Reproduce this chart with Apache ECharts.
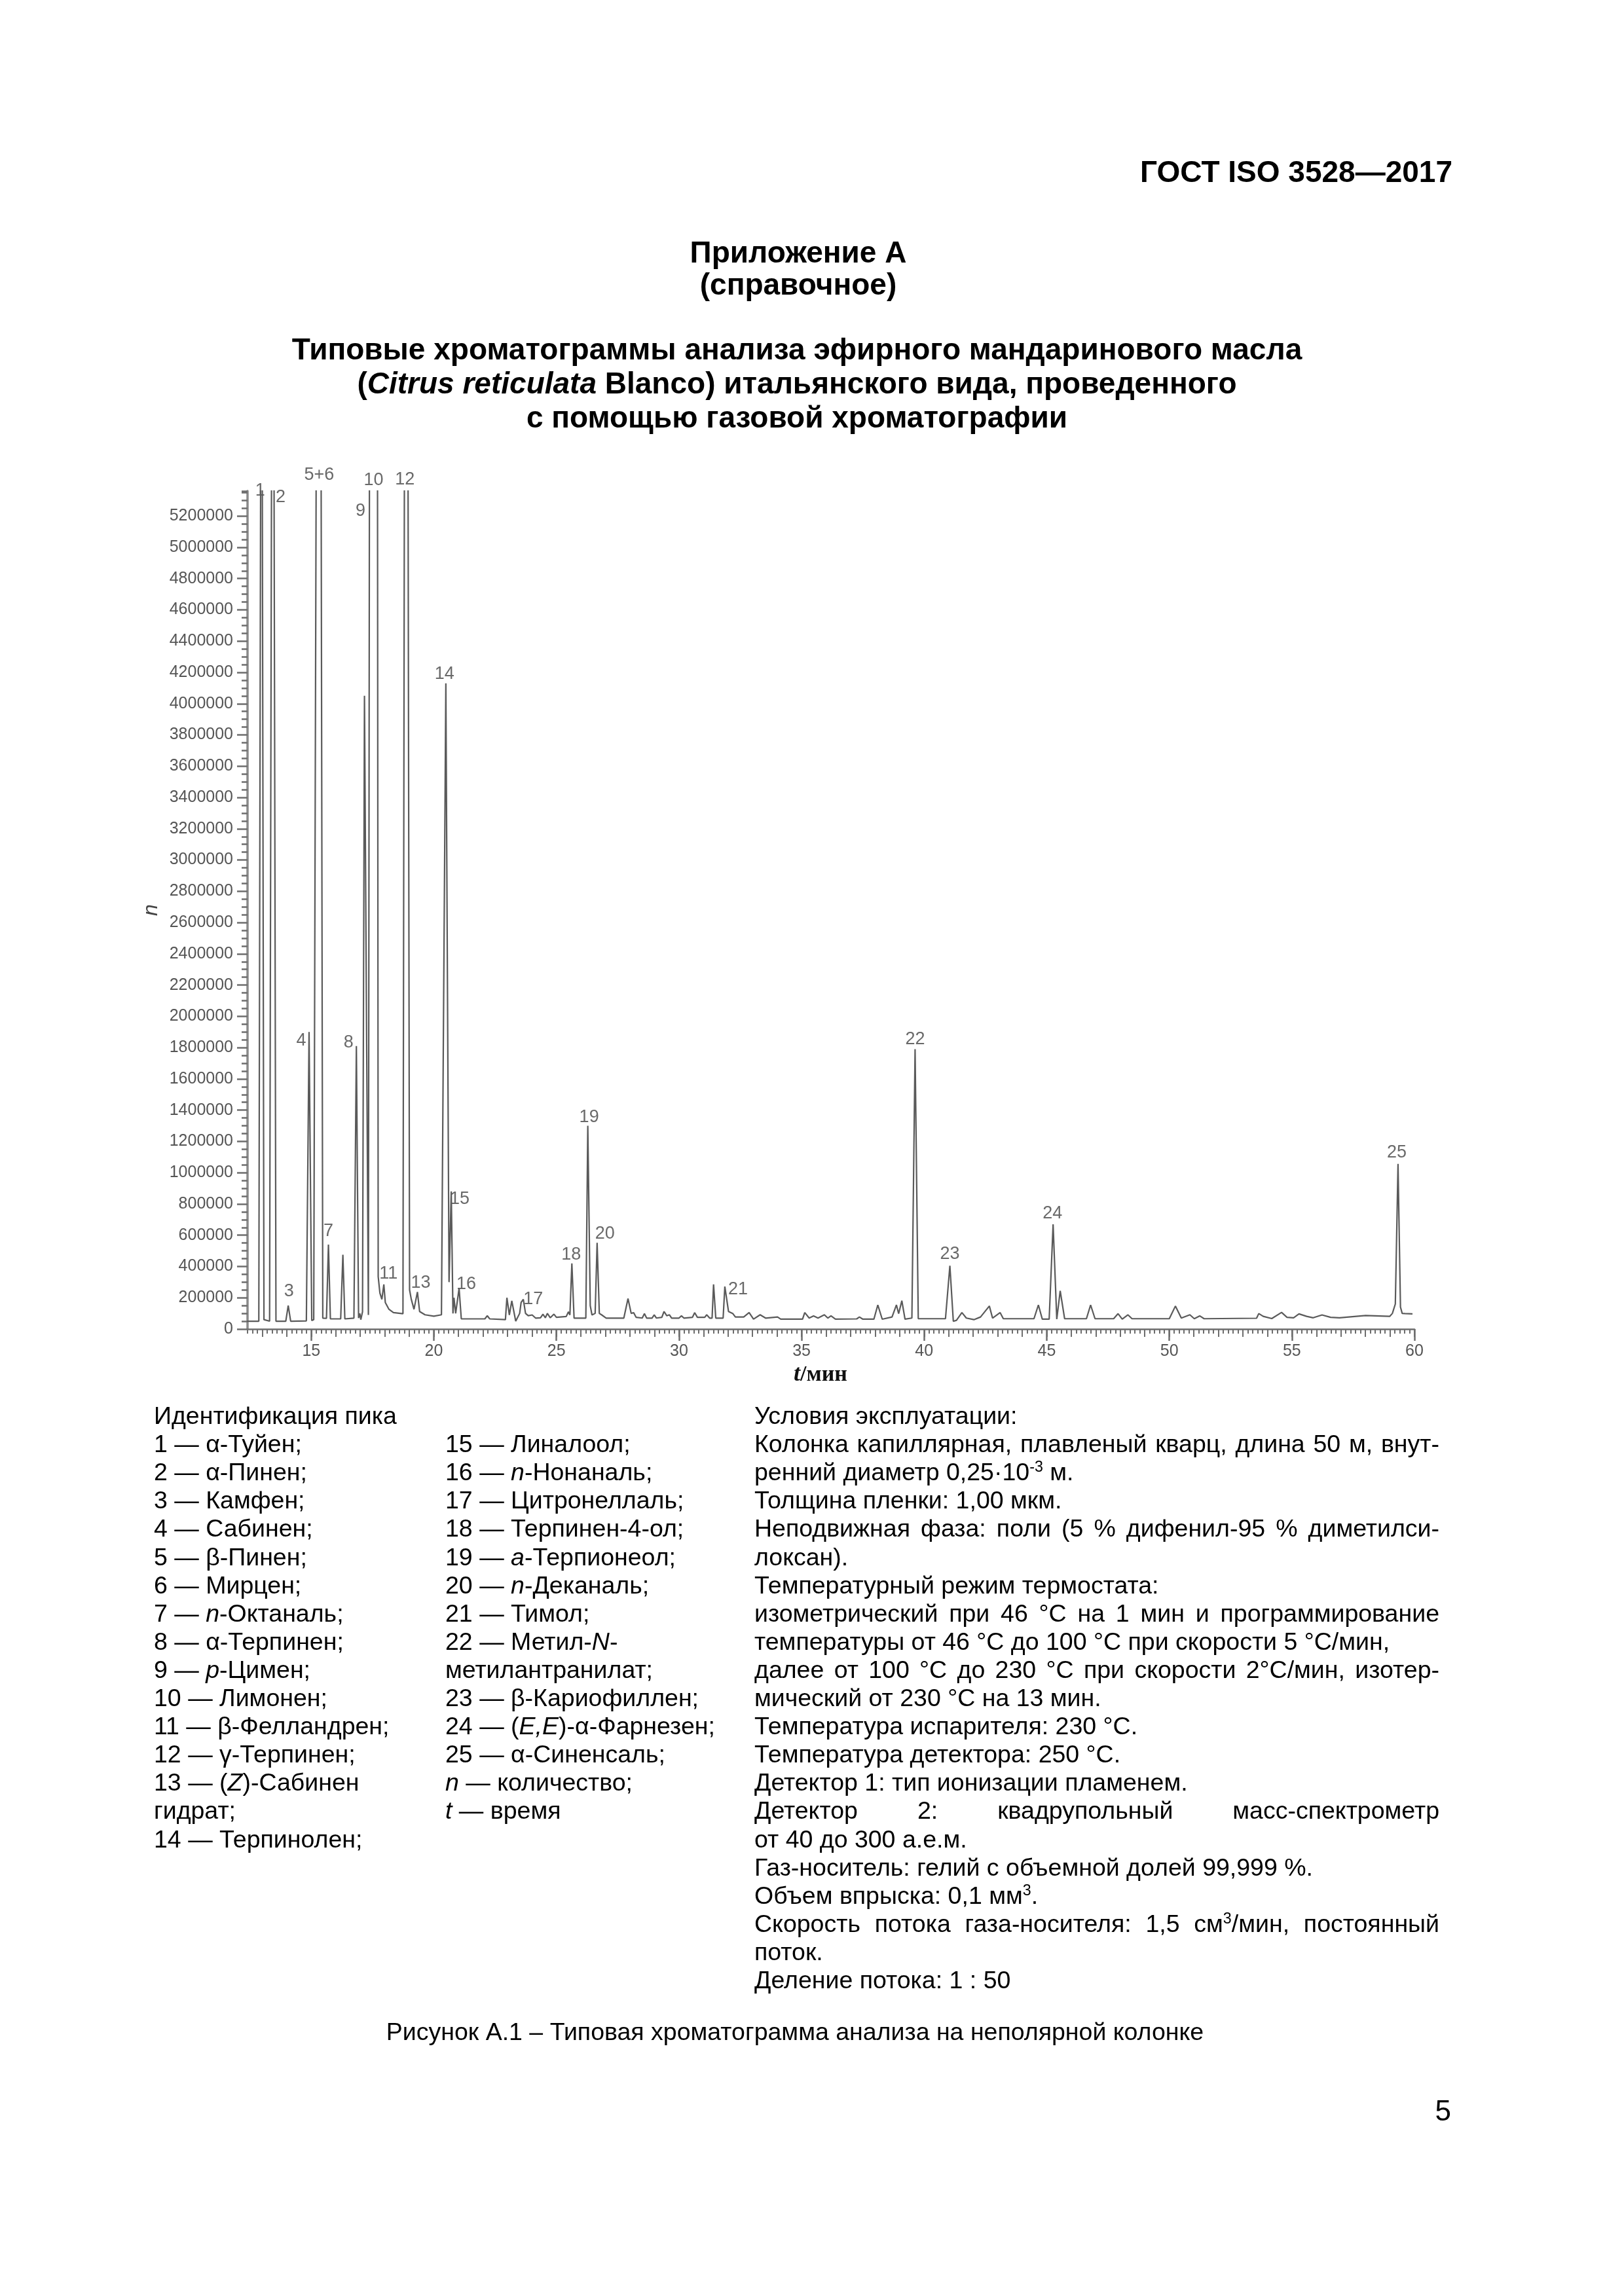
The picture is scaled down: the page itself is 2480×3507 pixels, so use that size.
<!DOCTYPE html>
<html lang="ru">
<head>
<meta charset="utf-8">
<script src="https://cdn.jsdelivr.net/npm/echarts@6/dist/echarts.min.js"></script>
<style>
  html, body { margin: 0; padding: 0; background: #fff; }
  #page { position: relative; width: 2480px; height: 3507px; overflow: hidden; background: #fff; }
  #chart { position: absolute; left: 0; top: 0; width: 2480px; height: 3507px; }
  .t { position: absolute; font-family: "Liberation Sans", Arial, sans-serif; color: #000; white-space: nowrap; }
  .h { font-size: 46px; font-weight: bold; line-height: 52px; }
  .b { font-size: 37.5px; line-height: 43px; }
  .j { width: 1046px; text-align: justify; text-align-last: justify; white-space: normal; }
  sup { font-size: 0.62em; line-height: 0; vertical-align: 0.55em; }
  i { font-style: italic; }
</style>
</head>
<body>
<div id="page">
  <div id="chart"></div>

  <div class="t h" style="right:262px; top:236px;">ГОСТ ISO 3528—2017</div>
  <div class="t h" style="left:0; width:2438px; text-align:center; top:359px;">Приложение А</div>
  <div class="t h" style="left:0; width:2438px; text-align:center; top:408px;">(справочное)</div>
  <div class="t h" style="left:0; width:2434px; text-align:center; top:507px;">Типовые хроматограммы анализа эфирного мандаринового масла</div>
  <div class="t h" style="left:0; width:2434px; text-align:center; top:559px;">(<i>Citrus reticulata</i> Blanco) итальянского вида, проведенного</div>
  <div class="t h" style="left:0; width:2434px; text-align:center; top:611px;">с помощью газовой хроматографии</div>

  <div id="textblock"></div>

  <div class="t b" style="left:0; width:2428px; text-align:center; top:3082px;">Рисунок А.1 – Типовая хроматограмма анализа на неполярной колонке</div>
  <div class="t" style="right:264px; top:3198px; font-size:44px; line-height:52px;">5</div>
</div>

<script>
// ---------------- DATA ----------------
// chromatogram trace: retention time, min
const traceT = [
  12.38, 12.86, 12.97, 13.07, 13.30, 13.43, 13.56, 13.96, 14.06, 14.16,
  14.80, 14.91, 15.02, 15.10, 15.32, 15.47, 15.62, 15.70, 15.78, 16.20,
  16.29, 16.37, 16.74, 16.84, 16.93, 16.98, 17.02, 17.09, 17.17, 17.33,
  17.57, 17.73, 17.80, 17.88, 17.96, 18.02, 18.17, 18.35, 18.74, 18.87,
  19.01, 19.08, 19.19, 19.33, 19.42, 19.64, 20.00, 20.31, 20.49, 20.62,
  20.71, 20.78, 20.82, 20.89, 21.03, 21.12, 22.08, 22.18, 22.28, 22.92,
  22.98, 23.08, 23.18, 23.34, 23.50, 23.56, 23.65, 23.74, 23.85, 24.01,
  24.15, 24.35, 24.45, 24.55, 24.63, 24.75, 24.90, 25.00, 25.40, 25.49,
  25.55, 25.63, 25.72, 26.20, 26.28, 26.38, 26.45, 26.58, 26.66, 26.75,
  26.85, 27.03, 27.75, 27.92, 28.05, 28.15, 28.25, 28.50, 28.59, 28.68,
  28.90, 28.99, 29.08, 29.30, 29.39, 29.50, 29.61, 29.70, 30.00, 30.10,
  30.20, 30.55, 30.64, 30.75, 31.05, 31.13, 31.25, 31.35, 31.41, 31.50,
  31.80, 31.87, 32.02, 32.20, 32.30, 32.64, 32.86, 33.04, 33.31, 33.53,
  34.02, 34.15, 35.04, 35.13, 35.31, 35.49, 35.67, 35.93, 36.07, 36.20,
  36.38, 37.25, 37.36, 37.50, 37.95, 38.11, 38.29, 38.69, 38.87, 38.96,
  39.09, 39.22, 39.50, 39.63, 39.76, 40.87, 41.05, 41.19, 41.32, 41.54,
  41.72, 42.03, 42.30, 42.66, 42.79, 43.10, 43.23, 44.48, 44.66, 44.82,
  45.10, 45.26, 45.41, 45.55, 45.73, 46.62, 46.79, 46.97, 47.73, 47.91,
  48.08, 48.31, 48.48, 50.00, 50.25, 50.49, 50.84, 51.02, 51.24, 51.42,
  53.56, 53.65, 53.83, 54.18, 54.58, 54.80, 55.07, 55.29, 55.60, 55.87,
  56.23, 56.58, 56.94, 58.01, 58.99, 59.10, 59.22, 59.33, 59.43, 59.50,
  59.61, 59.92
];
// detector signal n (counts)
const traceN = [
  50000, 50000, 8000000, 60000, 50000, 9000000, 50000, 50000, 150000, 50000,
  52000, 1900000, 55000, 60000, 12000000, 70000, 68000, 540000, 65000, 65000,
  475000, 65000, 70000, 1810000, 70000, 100000, 60000, 110000, 4050000, 90000,
  30000000, 335000, 230000, 190000, 285000, 170000, 126000, 105000, 98000, 12000000,
  250000, 190000, 126000, 237000, 112000, 91000, 82000, 91000, 4130000, 300000,
  880000, 100000, 200000, 100000, 260000, 65000, 65000, 85000, 65000, 60000,
  200000, 90000, 180000, 50000, 100000, 170000, 190000, 100000, 85000, 90000,
  70000, 72000, 95000, 72000, 100000, 72000, 95000, 75000, 80000, 110000,
  90000, 420000, 70000, 70000, 1300000, 150000, 90000, 100000, 552000, 100000,
  90000, 70000, 70000, 195000, 100000, 105000, 75000, 70000, 98000, 70000,
  70000, 91000, 70000, 75000, 112000, 85000, 91000, 70000, 70000, 84000,
  70000, 75000, 105000, 75000, 75000, 91000, 70000, 70000, 286000, 70000,
  70000, 272000, 112000, 98000, 77000, 77000, 105000, 63000, 91000, 70000,
  77000, 63000, 63000, 105000, 70000, 84000, 70000, 91000, 70000, 84000,
  63000, 65000, 77000, 63000, 63000, 154000, 63000, 77000, 154000, 98000,
  181000, 63000, 70000, 1790000, 66000, 66000, 405000, 49000, 56000, 105000,
  70000, 60000, 77000, 147000, 70000, 105000, 66000, 66000, 154000, 63000,
  63000, 670000, 63000, 244000, 66000, 66000, 154000, 66000, 66000, 98000,
  63000, 91000, 66000, 66000, 147000, 70000, 91000, 66000, 84000, 66000,
  69000, 99000, 81000, 67000, 106000, 75000, 72000, 97000, 81000, 72000,
  90000, 75000, 72000, 86000, 81000, 100000, 160000, 1056000, 140000, 100000,
  99000, 97000
];
// identified peaks
const peakNames = ['1', '2', '3', '4', '5+6', '7', '8', '9', '10', '11', '12', '13',
                   '14', '15', '16', '17', '18', '19', '20', '21', '22', '23', '24', '25'];
const peakT = [12.97, 13.43, 14.06, 14.91, 15.32, 15.70, 16.84, 17.17, 17.57, 17.96, 18.87, 19.33,
               20.49, 20.71, 21.03, 23.65, 25.63, 26.28, 26.66, 31.87, 39.63, 41.05, 45.26, 59.33];
const peakN = [8000000, 9000000, 150000, 1900000, 12000000, 540000, 1810000, 4050000, 30000000, 285000, 12000000, 237000,
               4130000, 880000, 260000, 190000, 420000, 1300000, 552000, 272000, 1790000, 405000, 670000, 1056000];
// axes
const xMin = 12.4, xMax = 60;
const yMin = 0, yMax = 5360000;
const xLabelMinutes = [15, 20, 25, 30, 35, 40, 45, 50, 55, 60];
const xMinuteTicks = [13, 14, 15, 16, 17, 18, 19, 20, 21, 22, 23, 24, 25, 26, 27, 28, 29, 30, 31, 32,
                      33, 34, 35, 36, 37, 38, 39, 40, 41, 42, 43, 44, 45, 46, 47, 48, 49, 50, 51, 52,
                      53, 54, 55, 56, 57, 58, 59, 60];

// ---------------- TEXT BLOCK ----------------
const legendCol1 = [
  'Идентификация пика', '1 — α-Туйен;', '2 — α-Пинен;', '3 — Камфен;', '4 — Сабинен;', '5 — β-Пинен;',
  '6 — Мирцен;', '7 — <i>n</i>-Октаналь;', '8 — α-Терпинен;', '9 — <i>p</i>-Цимен;', '10 — Лимонен;',
  '11 — β-Фелландрен;', '12 — γ-Терпинен;', '13 — (<i>Z</i>)-Сабинен', 'гидрат;', '14 — Терпинолен;'
];
const legendCol2 = [
  '', '15 — Линалоол;', '16 — <i>n</i>-Нонаналь;', '17 — Цитронеллаль;', '18 — Терпинен-4-ол;',
  '19 — <i>a</i>-Терпионеол;', '20 — <i>n</i>-Деканаль;', '21 — Тимол;', '22 — Метил-<i>N</i>-',
  'метилантранилат;', '23 — β-Кариофиллен;', '24 — (<i>E,E</i>)-α-Фарнезен;', '25 — α-Синенсаль;',
  '<i>n</i> — количество;', '<i>t</i> — время'
];
const conditions = [
  ['Условия эксплуатации:', 0],
  ['Колонка капиллярная, плавленый кварц, длина 50 м, внут-', 1],
  ['ренний диаметр 0,25·10<sup>-3</sup> м.', 0],
  ['Толщина пленки: 1,00 мкм.', 0],
  ['Неподвижная фаза: поли (5 % дифенил-95 % диметилси-', 1],
  ['локсан).', 0],
  ['Температурный режим термостата:', 0],
  ['изометрический при 46 °С на 1 мин и программирование', 1],
  ['температуры от 46 °С до 100 °С при скорости 5 °С/мин,', 0],
  ['далее от 100 °С до 230 °С при скорости 2°С/мин, изотер-', 1],
  ['мический от 230 °С на 13 мин.', 0],
  ['Температура испарителя: 230 °С.', 0],
  ['Температура детектора: 250 °С.', 0],
  ['Детектор 1: тип ионизации пламенем.', 0],
  ['Детектор 2: квадрупольный масс-спектрометр', 1],
  ['от 40 до 300 а.е.м.', 0],
  ['Газ-носитель: гелий с объемной долей 99,999 %.', 0],
  ['Объем впрыска: 0,1 мм<sup>3</sup>.', 0],
  ['Скорость потока газа-носителя: 1,5 см<sup>3</sup>/мин, постоянный', 1],
  ['поток.', 0],
  ['Деление потока: 1 : 50', 0]
];

(function buildText() {
  const tb = document.getElementById('textblock');
  const row0 = 2141, rowH = 43.1;
  let html = '';
  legendCol1.forEach((s, k) => {
    html += '<div class="t b" style="left:235px; top:' + (row0 + k * rowH).toFixed(1) + 'px;">' + s + '</div>';
  });
  legendCol2.forEach((s, k) => {
    if (s) html += '<div class="t b" style="left:680px; top:' + (row0 + k * rowH).toFixed(1) + 'px;">' + s + '</div>';
  });
  conditions.forEach((c, k) => {
    html += '<div class="t b' + (c[1] ? ' j' : '') + '" style="left:1152px; top:' + (row0 + k * rowH).toFixed(1) + 'px;">' + c[0] + '</div>';
  });
  tb.innerHTML = html;
})();

// ---------------- CHART ----------------
const FONT = '"Liberation Sans", Arial, sans-serif';
const labelOffset = {
  '1': [-2, 15], '2': [12, 25], '3': [1, -6], '4': [-12, 29], '5+6': [0, -9], '7': [0, -5],
  '8': [-12, 10], '9': [-6, -267], '10': [-1, -1], '11': [7, -1], '12': [-2, -2], '13': [5, 2],
  '14': [-2, 1], '15': [13, 27], '16': [11, 9], '17': [15, 15], '18': [-1, 2], '19': [2, 2],
  '20': [12, 2], '21': [20, 20], '22': [0, 1], '23': [0, -2], '24': [-1, -1], '25': [-2, -2]
};

const traceData = traceT.map((t, i) => [t, traceN[i]]);
const labelData = peakNames.map((name, i) => ({
  name: name,
  value: [peakT[i], Math.min(peakN[i], yMax)],
  label: {
    offset: labelOffset[name] || [0, 0],
    backgroundColor: name === '1' ? '#fff' : 'transparent'
  }
}));

const axisGray = '#6e6e6e';
const chart = echarts.init(document.getElementById('chart'), null, { renderer: 'canvas', width: 2480, height: 3507 });
chart.setOption({
  animation: false,
  backgroundColor: 'transparent',
  grid: { left: 378, top: 750, width: 1782, height: 1280, containLabel: false },
  xAxis: [
    {
      type: 'value', min: xMin, max: xMax, interval: 0.2, position: 'bottom',
      axisLine: { show: true, onZero: false, lineStyle: { color: axisGray, width: 2.5 } },
      axisTick: { show: true, length: 7, lineStyle: { color: axisGray, width: 2 } },
      axisLabel: { show: false }, splitLine: { show: false }
    },
    {
      type: 'value', min: xMin, max: xMax, position: 'bottom',
      axisLine: { show: false, onZero: false },
      axisTick: { show: true, length: 12, customValues: xMinuteTicks, lineStyle: { color: axisGray, width: 2 } },
      axisLabel: { show: false }, splitLine: { show: false }
    },
    {
      type: 'value', min: xMin, max: xMax, position: 'bottom',
      axisLine: { show: false, onZero: false },
      axisTick: { show: true, length: 18, customValues: xLabelMinutes, lineStyle: { color: axisGray, width: 2.5 } },
      axisLabel: { show: true, customValues: xLabelMinutes, fontSize: 25, color: '#555', fontFamily: FONT, margin: 22 },
      splitLine: { show: false },
      name: '{i|t}{n|/мин}', nameLocation: 'middle', nameGap: 52,
      nameTextStyle: {
        padding: [0, 32, 0, 0],
        rich: {
          i: { fontFamily: '"Liberation Serif", "Times New Roman", serif', fontStyle: 'italic', fontWeight: 'bold', fontSize: 36, color: '#111' },
          n: { fontFamily: '"Liberation Serif", "Times New Roman", serif', fontWeight: 'bold', fontSize: 34, color: '#111' }
        }
      }
    }
  ],
  yAxis: [
    {
      type: 'value', min: yMin, max: yMax, interval: 200000, position: 'left',
      axisLine: { show: true, onZero: false, lineStyle: { color: '#8a8a8a', width: 3.5 } },
      axisTick: { show: true, length: 16, lineStyle: { color: axisGray, width: 2.5 } },
      axisLabel: { show: true, showMaxLabel: false, fontSize: 25, color: '#555', fontFamily: FONT, margin: 22,
                   formatter: v => String(Math.round(v)) },
      splitLine: { show: false },
      name: 'n', nameLocation: 'middle', nameGap: 131, nameRotate: 90,
      nameTextStyle: { fontFamily: FONT, fontStyle: 'italic', fontSize: 32, color: '#444' }
    },
    {
      type: 'value', min: yMin, max: yMax, interval: 50000, position: 'left',
      axisLine: { show: false, onZero: false },
      axisTick: { show: true, length: 9, lineStyle: { color: axisGray, width: 2.5 } },
      axisLabel: { show: false }, splitLine: { show: false }
    }
  ],
  series: [
    {
      type: 'line', name: 'trace', xAxisIndex: 0, yAxisIndex: 0,
      data: traceData, showSymbol: false, symbol: 'none', clip: true, smooth: false,
      lineStyle: { color: '#5a5a5a', width: 2.2 },
      silent: true
    },
    {
      type: 'scatter', name: 'peaks', xAxisIndex: 0, yAxisIndex: 0,
      data: labelData, symbolSize: 1, clip: false,
      itemStyle: { color: 'rgba(0,0,0,0)' },
      label: {
        show: true, position: 'top', distance: 1,
        formatter: p => p.name,
        fontFamily: FONT, fontSize: 27, color: '#444', lineHeight: 28, padding: [0, 1, 0, 1]
      },
      silent: true
    }
  ]
});
</script>
</body>
</html>
